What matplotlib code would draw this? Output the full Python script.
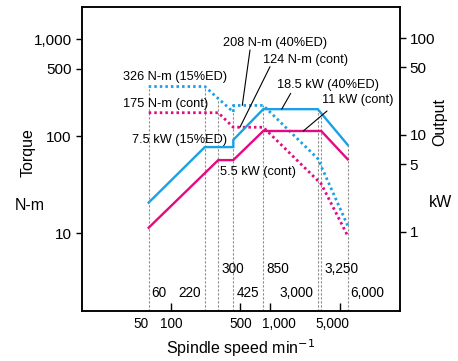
import numpy as np
import matplotlib
matplotlib.use("Agg")
import matplotlib.pyplot as plt
from matplotlib.transforms import ScaledTranslation

plt.rcParams['font.family'] = ['Liberation Sans', 'DejaVu Sans']

# ---- data ----
# short-time rating (15%ED / 40%ED): blue
speed_st = [60, 220, 425, 425, 850, 3000, 6000]
torque_st = [326, 326, 178, 208, 208, 58.9, 12.0]      # N-m (dotted)
power_st = [2.0, 7.5, 7.5, 8.9, 18.5, 18.5, 7.9]       # kW (solid)

# continuous rating: magenta
speed_ct = [60, 300, 425, 850, 3250, 6000]
torque_ct = [175, 175, 124, 124, 32.3, 9.4]            # N-m (dotted)
power_ct = [1.1, 5.5, 5.5, 11.0, 11.0, 5.6]            # kW (solid)

break_speeds = [60, 220, 300, 425, 850, 3000, 3250, 6000]
break_labels = ["60", "220", "300", "425", "850", "3,000", "3,250", "6,000"]

xticks = [50, 100, 500, 1000, 5000]
xticklabels = ["50", "100", "500", "1,000", "5,000"]
yticks_l = [10, 100, 500, 1000]
yticklabels_l = ["10", "100", "500", "1,000"]
yticks_r = [1, 5, 10, 50, 100]
yticklabels_r = ["1", "5", "10", "50", "100"]

BLUE = "#1aa0e6"
MAG = "#e5087e"
W, H = 458, 361

fig = plt.figure(figsize=(W / 100, H / 100), dpi=100)
ax = fig.add_axes([82 / W, 1 - 311 / H, (400 - 82) / W, (311 - 7.3) / H])
ax2 = ax.twinx()

for a in (ax, ax2):
    a.set_xscale('log')
    a.set_yscale('log')
    a.set_xlim(12.82, 20120)
ax.set_ylim(1.58, 2138)
ax2.set_ylim(0.1513, 209.2)

dot = (0, (0.9, 1.1))
ax.plot(speed_st, torque_st, color=BLUE, lw=2.0, ls=dot, zorder=3)
ax.plot(speed_ct, torque_ct, color=MAG, lw=2.0, ls=dot, zorder=3)
ax2.plot(speed_st, power_st, color=BLUE, lw=1.7, zorder=3, solid_joinstyle='miter')
ax2.plot(speed_ct, power_ct, color=MAG, lw=1.7, zorder=3, solid_joinstyle='miter')


def seg_max(n, xs, ys):
    best = None
    for i in range(len(xs) - 1):
        x0, x1 = xs[i], xs[i + 1]
        if x0 == x1:
            continue
        if x0 <= n <= x1:
            t = (np.log(n) - np.log(x0)) / (np.log(x1) - np.log(x0))
            v = np.exp(np.log(ys[i]) + t * (np.log(ys[i + 1]) - np.log(ys[i])))
            best = v if best is None else max(best, v)
    return best


# vertical guide lines from bottom to the upper curve
fig.canvas.draw()
inv = ax.transData.inverted()
for n in break_speeds:
    tq = seg_max(n, speed_st, torque_st)
    pw = seg_max(n, speed_st, power_st)
    pw_left = inv.transform(ax2.transData.transform((n, pw)))[1]
    top = max(tq, pw_left)
    ax.plot([n, n], [1.58, top], color="#8a8a8a", lw=0.8, ls=(0, (2, 1.6)), zorder=1)

# ticks
ax.set_xticks(xticks)
ax.set_xticklabels(xticklabels)
ax.xaxis.set_minor_locator(matplotlib.ticker.NullLocator())
ax.set_yticks(yticks_l)
ax.set_yticklabels(yticklabels_l)
ax.yaxis.set_minor_locator(matplotlib.ticker.NullLocator())
ax2.set_yticks(yticks_r)
ax2.set_yticklabels(yticklabels_r)
ax2.yaxis.set_minor_locator(matplotlib.ticker.NullLocator())
ax2.xaxis.set_minor_locator(matplotlib.ticker.NullLocator())

ax.tick_params(axis='x', direction='in', length=6, width=1, labelsize=9.8, pad=4.5)
ax.tick_params(axis='y', direction='out', length=4.5, width=1, labelsize=11, pad=3)
ax2.tick_params(axis='y', direction='out', length=4, width=1, labelsize=11, pad=3)
ax.xaxis.get_major_ticks()[0].tick1line.set_visible(False)
for a in (ax, ax2):
    for s in a.spines.values():
        s.set_linewidth(1.1)

# nudge x tick labels as in the reference (pixel offsets)
x_label_shift_px = [0.5, 0, 0, 8.4, -7.5]
for lab, dx in zip(ax.get_xticklabels(), x_label_shift_px):
    lab.set_transform(lab.get_transform() + ScaledTranslation(dx / 100, 0, fig.dpi_scale_trans))

# axis labels
ax.set_xlabel("Spindle speed min$^{-1}$", fontsize=11.5, labelpad=4)
fig.text(28 / W, 1 - 153 / H, "Torque", rotation=90, fontsize=11.5, ha='center', va='center')
fig.text(30 / W, 1 - 205 / H, "N-m", fontsize=11.5, ha='center', va='center')
fig.text(440 / W, 1 - 122 / H, "Output", rotation=90, fontsize=11.5, ha='center', va='center')
fig.text(441 / W, 1 - 203 / H, "kW", fontsize=11.5, ha='center', va='center')

# speed labels
row_y = {"300": 269, "850": 269, "3,250": 269}
left_side = {"220", "3,000"}
for n, lab in zip(break_speeds, break_labels):
    py = row_y.get(lab, 293)
    yv = inv.transform((0, H - py))[1]
    if lab in left_side:
        ax.annotate(lab, (n, yv), xytext=(-4, 0), textcoords='offset pixels',
                    ha='right', va='center', fontsize=9.8)
    else:
        ax.annotate(lab, (n, yv), xytext=(3, 0), textcoords='offset pixels',
                    ha='left', va='center', fontsize=9.8)

# curve labels without leaders
ANN = 9.2
for txt, px, py in [("326 N-m (15%ED)", 122.7, 76.7),
                    ("175 N-m (cont)", 123, 104.3),
                    ("7.5 kW (15%ED)", 131.7, 140),
                    ("5.5 kW (cont)", 220, 172)]:
    fig.text(px / W, 1 - py / H, txt, fontsize=ANN, ha='left', va='center')

# curve labels with leader lines
for txt, px, py, a, xy, start in [
        ("208 N-m (40%ED)", 222.7, 43.3, ax, (523, 208), (250, 50)),
        ("124 N-m (cont)", 263.3, 60, ax, (496, 124), (270, 66.7)),
        ("18.5 kW (40%ED)", 277.3, 85, ax2, (1302, 18.5), (290.7, 93.3)),
        ("11 kW (cont)", 321.7, 100, ax2, (2148, 11.0), (327, 111))]:
    fig.text(px / W, 1 - py / H, txt, fontsize=ANN, ha='left', va='center')
    a.annotate("", xy=xy, xycoords='data',
               xytext=(start[0] / W, 1 - start[1] / H), textcoords='figure fraction',
               arrowprops=dict(arrowstyle='-', color='black', lw=0.8,
                               shrinkA=0, shrinkB=0))

fig.savefig("out.png", dpi=100)
